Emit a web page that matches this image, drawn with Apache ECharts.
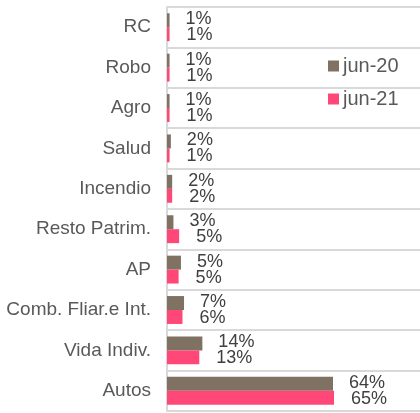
<!DOCTYPE html>
<html>
<head>
<meta charset="utf-8">
<script src="https://cdn.jsdelivr.net/npm/echarts@6/dist/echarts.min.js"></script>
<style>
  html, body { margin: 0; padding: 0; background: #fff; }
  #chart { width: 420px; height: 413px; }
</style>
</head>
<body>
<div id="chart"></div>
<script>
// data (percent of premiums)
const categories = ['RC', 'Robo', 'Agro', 'Salud', 'Incendio', 'Resto Patrim.', 'AP', 'Comb. Fliar.e Int.', 'Vida Indiv.', 'Autos']
const jun20 = [1, 1, 1, 1.5, 2, 2.5, 5.4, 6.6, 13.7, 64.3]
const jun21 = [1, 1, 1, 1, 2, 4.7, 4.5, 6, 12.5, 64.7]
const seriesNames = ['jun-20', 'jun-21']

const chart = echarts.init(document.getElementById('chart'))

const pctLabel = (p) => Math.round(p.value) + '%'

const options = {
  animation: false,
  textStyle: { fontFamily: 'Liberation Sans, Arial, sans-serif' },
  grid: {
    left: 167,
    right: 0,
    top: 7,
    bottom: 2,
    containLabel: false
  },
  legend: {
    data: seriesNames,
    orient: 'vertical',
    left: 323,
    top: 51,
    icon: 'rect',
    itemWidth: 11,
    itemHeight: 11,
    itemGap: 13,
    itemStyle: { borderWidth: 0 },
    textStyle: { fontSize: 20, color: '#595959', padding: [0, 0, 0, -1] }
  },
  xAxis: {
    type: 'value',
    min: 0,
    max: 98,
    show: false,
    splitLine: { show: false }
  },
  yAxis: {
    type: 'category',
    data: categories,
    inverse: true,
    axisTick: { show: false },
    axisLine: { show: true, lineStyle: { color: '#d9d9d9', width: 2 } },
    splitLine: { show: true, lineStyle: { color: '#d9d9d9', width: 2 } },
    axisLabel: { fontSize: 19, color: '#595959', margin: 16 }
  },
  series: [
    {
      name: seriesNames[0],
      type: 'bar',
      data: jun20,
      barGap: '0%',
      barCategoryGap: '31%',
      itemStyle: { color: '#7f7262' },
      label: {
        show: true,
        position: 'right',
        distance: 16,
        offset: [0, -1],
        fontSize: 18,
        color: '#404040',
        formatter: pctLabel
      }
    },
    {
      name: seriesNames[1],
      type: 'bar',
      data: jun21,
      itemStyle: { color: '#ff4778' },
      label: {
        show: true,
        position: 'right',
        distance: 17,
        offset: [0, 1],
        fontSize: 18,
        color: '#404040',
        formatter: pctLabel
      }
    }
  ]
}

chart.setOption(options)
</script>
</body>
</html>
